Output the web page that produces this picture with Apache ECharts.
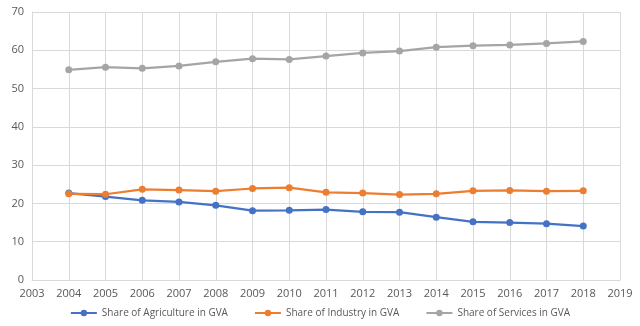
<!DOCTYPE html>
<html><head><meta charset="utf-8">
<script src="https://cdn.jsdelivr.net/npm/echarts@6/dist/echarts.min.js"></script>
<style>html,body{margin:0;padding:0;background:#fff}#c{width:640px;height:326px}</style>
</head><body><div id="c"></div>
<script>
var years = [2004,2005,2006,2007,2008,2009,2010,2011,2012,2013,2014,2015,2016,2017,2018];
var agriculture = [22.7,21.8,20.8,20.4,19.5,18.1,18.2,18.4,17.8,17.7,16.4,15.2,15.0,14.7,14.1];
var industry = [22.5,22.4,23.7,23.5,23.2,23.9,24.1,22.9,22.7,22.3,22.5,23.3,23.4,23.2,23.3];
var services = [54.9,55.6,55.3,55.9,57.0,57.8,57.6,58.5,59.3,59.8,60.8,61.2,61.4,61.8,62.3];
var names = ['Share of Agriculture in GVA','Share of Industry in GVA','Share of Services in GVA'];
var colors = ['#4472C4','#ED7D31','#A5A5A5'];
function pairs(v){return years.map(function(y,i){return [y,v[i]];});}
var chart = echarts.init(document.getElementById('c'));
var txt = {color:'#595959',fontFamily:'Open Sans',fontSize:11};
chart.setOption({
  animation:false,
  color:colors,
  grid:{left:32,right:20,top:12,bottom:46},
  legend:{bottom:3,left:'center',itemWidth:26,itemHeight:8,itemGap:26,
    textStyle:{color:'#595959',fontFamily:'Open Sans',fontSize:10},
    data:names},
  xAxis:{type:'value',min:2003,max:2019,interval:1,
    axisLine:{show:true,lineStyle:{color:'#D9D9D9'}},axisTick:{show:false},
    axisLabel:Object.assign({formatter:function(v){return String(v);},margin:8},txt),
    splitLine:{show:true,lineStyle:{color:'#D9D9D9',width:1}}},
  yAxis:{type:'value',min:0,max:70,interval:10,
    axisLine:{show:true,lineStyle:{color:'#D9D9D9'}},axisTick:{show:false},
    axisLabel:Object.assign({margin:8},txt),
    splitLine:{show:true,lineStyle:{color:'#D9D9D9',width:1}}},
  series:[agriculture,industry,services].map(function(v,i){
    return {name:names[i],type:'line',data:pairs(v),symbol:'circle',symbolSize:7,
      lineStyle:{width:2.25},itemStyle:{color:colors[i]}};
  })
});
</script></body></html>
